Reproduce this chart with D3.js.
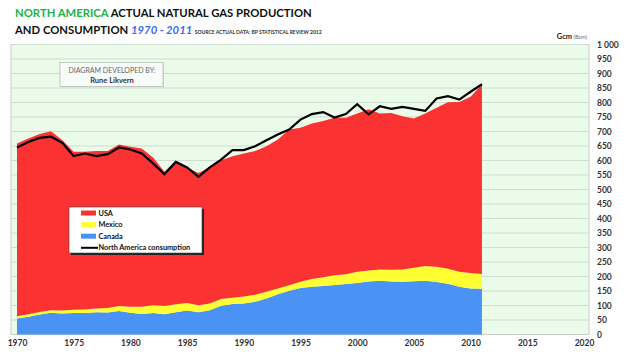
<!DOCTYPE html>
<html>
<head>
<meta charset="utf-8">
<script src="https://cdn.jsdelivr.net/npm/d3@7"></script>
<style>
  body { margin: 0; background: #fff; }
  text { font-family: Lato, "Liberation Sans", sans-serif; }
</style>
</head>
<body>
<div id="chart"></div>
<script>
// data (Gcm / Bcm)
var years = d3.range(1970, 2012);
var canada = [55,61,69,75,72,74,74,77,76,81,75,71,74,70,77,83,77,84,99,105,
  107,113,124,139,151,160,165,167,171,174,178,183,185,183,182,184,185,181,175,165,159,158];
var mexico = [8,9,9,9,11,11,12,13,15,17,21,25,27,28,27,26,24,23,23,22,
  24,24,23,20,19,22,26,30,33,34,38,38,39,40,42,46,51,53,52,51,53,51];
var usa = [596,606,613,617,587,545,544,543,542,557,551,545,509,463,495,467,456,471,479,488,
  493,496,502,513,537,531,537,539,543,539,546,556,538,541,529,515,526,548,574,586,608,653];
var consumption = [645,664,678,682,661,615,624,615,622,645,638,624,590,553,595,576,544,576,603,636,
  636,649,670,690,707,741,760,767,748,760,794,759,787,778,785,778,771,814,822,810,837,863];
var yTicks = d3.range(0, 1001, 50);
var xTicks = d3.range(1970, 2021, 5);
var seriesNames = ["canada", "mexico", "usa"];
var seriesColors = {usa: "#fb3232", mexico: "#ffff33", canada: "#4a93f5"};

var W = 629, H = 354;
var svg = d3.select("#chart").append("svg")
  .attr("width", W).attr("height", H);

var x = d3.scaleLinear().domain([1970, 2020]).range([17, 584]);
var y = d3.scaleLinear().domain([0, 1000]).range([334.5, 44.5]);

// plot panel
svg.append("rect")
  .attr("x", 11).attr("y", 44.5)
  .attr("width", 578).attr("height", 290)
  .attr("fill", "#eafbea")
  .attr("stroke", "#c8cfc8").attr("stroke-width", 1);

// gridlines
svg.append("g").selectAll("line")
  .data(yTicks.filter(d => d > 0))
  .enter().append("line")
  .attr("x1", 11).attr("x2", 589)
  .attr("y1", d => y(d)).attr("y2", d => y(d))
  .attr("stroke", "#cfdccf").attr("stroke-width", 1);

// stacked areas
var table = years.map((yr, i) => ({year: yr, canada: canada[i], mexico: mexico[i], usa: usa[i]}));
var stack = d3.stack().keys(seriesNames)(table);
var area = d3.area()
  .x(d => x(d.data.year))
  .y0(d => y(d[0]))
  .y1(d => y(d[1]));
svg.append("g").selectAll("path")
  .data(stack)
  .enter().append("path")
  .attr("d", area)
  .attr("fill", d => seriesColors[d.key]);

// consumption line
var line = d3.line()
  .x((d, i) => x(years[i]))
  .y(d => y(d));
svg.append("path")
  .datum(consumption)
  .attr("d", line)
  .attr("fill", "none")
  .attr("stroke", "#000")
  .attr("stroke-width", 2.2)
  .attr("stroke-linejoin", "miter");

// axes
var yAxis = svg.append("g")
  .attr("transform", "translate(596,0)")
  .call(d3.axisRight(y).tickValues(yTicks).tickSize(0)
    .tickFormat(d => d3.format(",")(d).replace(",", " ")));
yAxis.select(".domain").remove();
yAxis.selectAll("text")
  .attr("x", 1)
  .style("font-size", "8.5px").style("font-weight", "bold")
  .style("font-family", "Lato, sans-serif").attr("fill", "#333");

var xAxis = svg.append("g")
  .attr("transform", "translate(0,336)")
  .call(d3.axisBottom(x).tickValues(xTicks).tickSize(0).tickFormat(d3.format("d")));
xAxis.select(".domain").remove();
xAxis.selectAll("text")
  .attr("y", 4)
  .style("font-size", "8.5px").style("font-weight", "bold")
  .style("font-family", "Lato, sans-serif").attr("fill", "#333");

// unit label
svg.append("text")
  .attr("x", 587).attr("y", 38.5)
  .attr("text-anchor", "end")
  .style("font-size", "7.5px").style("font-weight", "bold").attr("fill", "#222")
  .text("Gcm")
  .append("tspan").style("font-size", "5.5px").style("font-weight", "normal").attr("fill", "#666")
  .text(" (Bcm)");

// title
var t1 = svg.append("text").attr("x", 15).attr("y", 17)
  .style("font-size", "11.3px").style("font-weight", "bold");
t1.append("tspan").attr("fill", "#1db24a").text("NORTH AMERICA ");
t1.append("tspan").attr("fill", "#111").text("ACTUAL NATURAL GAS PRODUCTION");

var t2 = svg.append("text").attr("x", 15).attr("y", 34)
  .style("font-size", "11.3px").style("font-weight", "bold");
t2.append("tspan").attr("fill", "#111").text("AND CONSUMPTION ");
t2.append("tspan").attr("fill", "#3a6cf0").style("font-style", "italic").text("1970 - 2011 ");
t2.append("tspan").attr("fill", "#333").style("font-size", "5px")
  .text("SOURCE ACTUAL DATA: BP STATISTICAL REVIEW 2012");

// credit box
svg.append("rect").attr("x", 61).attr("y", 63.5).attr("width", 103).attr("height", 24)
  .attr("fill", "#d8dcd8");
svg.append("rect").attr("x", 60).attr("y", 62.5).attr("width", 103).attr("height", 24)
  .attr("fill", "#f8fcf8").attr("stroke", "#b8bcb8").attr("stroke-width", 0.8);
svg.append("text").attr("x", 112).attr("y", 72.5).attr("text-anchor", "middle")
  .style("font-size", "7px").attr("fill", "#666").text("DIAGRAM DEVELOPED BY:");
svg.append("text").attr("x", 112).attr("y", 82.5).attr("text-anchor", "middle")
  .style("font-size", "7.5px").style("font-weight", "bold").attr("fill", "#333").text("Rune Likvern");

// legend
var legendItems = [
  {label: "USA", key: "usa"},
  {label: "Mexico", key: "mexico"},
  {label: "Canada", key: "canada"},
  {label: "North America consumption", key: "line"}
];
var lg = svg.append("g");
lg.append("rect").attr("x", 71).attr("y", 209).attr("width", 133).attr("height", 46)
  .attr("fill", "#222");
lg.append("rect").attr("x", 69).attr("y", 207).attr("width", 133).attr("height", 46)
  .attr("fill", "#fff").attr("stroke", "#444").attr("stroke-width", 0.6);
var rows = lg.selectAll("g.item").data(legendItems).enter().append("g")
  .attr("transform", (d, i) => "translate(0," + (213 + i * 11.6) + ")");
rows.filter(d => d.key !== "line").append("rect")
  .attr("x", 81).attr("y", -2.5).attr("width", 15).attr("height", 5)
  .attr("fill", d => seriesColors[d.key]);
rows.filter(d => d.key === "line").append("line")
  .attr("x1", 81).attr("x2", 98).attr("y1", 0).attr("y2", 0)
  .attr("stroke", "#000").attr("stroke-width", 2);
rows.append("text").attr("x", 98.5).attr("y", 2.5)
  .style("font-size", "7.3px").style("font-weight", "bold").attr("fill", "#111")
  .text(d => d.label);
</script>
</body>
</html>
